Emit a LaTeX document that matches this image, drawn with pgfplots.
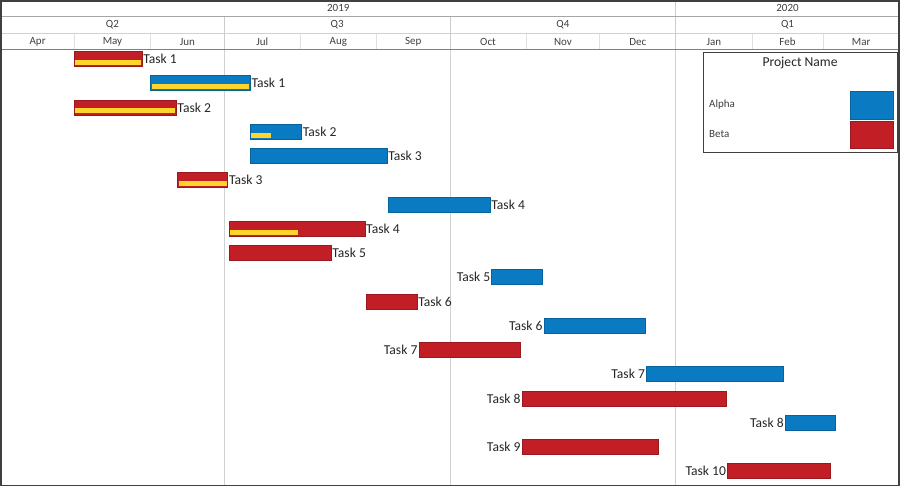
\documentclass[border=0pt]{standalone}
\usepackage{pgfplots}
\pgfplotsset{compat=1.18}
\usepackage{fontspec}
\setmainfont{Carlito}

\definecolor{alpha}{HTML}{0A7AC2}
\definecolor{beta}{HTML}{C21E25}
\definecolor{done}{HTML}{FFD52C}
\definecolor{frame}{HTML}{404040}
\definecolor{hdrtext}{HTML}{404040}

% one bar of the chart: colour, start day, end day, row
\newcommand{\gbar}[4]{%
  \pgfmathsetmacro\lo{#4-0.31}\pgfmathsetmacro\hi{#4+0.31}%
  \addplot[fill=#1, draw=#1!80!black, line width=0.5pt]
    coordinates {(#2,\lo) (#3,\lo) (#3,\hi) (#2,\hi)} -- cycle;}
% progress strip: start day, end day, row
\newcommand{\prog}[3]{%
  \pgfmathsetmacro\lo{#3+0.045}\pgfmathsetmacro\hi{#3+0.25}%
  \addplot[fill=done, draw=none]
    coordinates {(#1,\lo) (#2,\lo) (#2,\hi) (#1,\hi)} -- cycle;}
\newcommand{\labR}[3]{\node[lab, anchor=west] at (axis cs:#1,#2) {#3};}
\newcommand{\labL}[3]{\node[lab, anchor=east] at (axis cs:#1,#2) {#3};}

\begin{document}
\begin{tikzpicture}[
  lab/.style={inner sep=1.2pt, text=black!85, font=\fontsize{13.6}{15}\selectfont},
  hdr/.style={text=hdrtext, font=\fontsize{11}{12}\selectfont},
]
\begin{axis}[
  scale only axis,
  width=898pt, height=435.6pt,
  xmin=0, xmax=366,          % days from 1 Apr 2019
  ymin=0.629, ymax=18.6,
  y dir=reverse,
  axis line style={draw=none},
  tick style={draw=none},
  xtick={91,183,275}, xticklabels={},
  ytick=\empty,
  xmajorgrids,
  grid style={color=black!18, line width=0.7pt},
  clip=false,
]

% ---- header ----
\draw[black!20, line width=0.7pt] (axis cs:275,-1.393) -- (axis cs:275,0.629);
\draw[black!20, line width=0.7pt] (axis cs:91,-0.733) -- (axis cs:91,0.629);
\draw[black!20, line width=0.7pt] (axis cs:183,-0.733) -- (axis cs:183,0.629);
\pgfplotsinvokeforeach{30,61,122,153,214,244,306,335}{
  \draw[black!12, line width=0.7pt] (axis cs:#1,-0.031) -- (axis cs:#1,0.629);}
\draw[black!35, line width=0.8pt] (axis cs:0,-0.733) -- (axis cs:366,-0.733);
\draw[black!18, line width=0.8pt] (axis cs:0,-0.031) -- (axis cs:366,-0.031);
\draw[black!50, line width=1.3pt] (axis cs:0,0.629) -- (axis cs:366,0.629);

\node[hdr] at (axis cs:137.5,-1.08) {2019};
\node[hdr] at (axis cs:320.5,-1.08) {2020};
\node[hdr] at (axis cs:45.5,-0.39) {Q2};
\node[hdr] at (axis cs:137,-0.39) {Q3};
\node[hdr] at (axis cs:229,-0.39) {Q4};
\node[hdr] at (axis cs:320.5,-0.39) {Q1};
\node[hdr] at (axis cs:15,0.30) {Apr};
\node[hdr] at (axis cs:45.5,0.30) {May};
\node[hdr] at (axis cs:76,0.30) {Jun};
\node[hdr] at (axis cs:106.5,0.30) {Jul};
\node[hdr] at (axis cs:137.5,0.30) {Aug};
\node[hdr] at (axis cs:168,0.30) {Sep};
\node[hdr] at (axis cs:198.5,0.30) {Oct};
\node[hdr] at (axis cs:229,0.30) {Nov};
\node[hdr] at (axis cs:259.5,0.30) {Dec};
\node[hdr] at (axis cs:290.5,0.30) {Jan};
\node[hdr] at (axis cs:320.5,0.30) {Feb};
\node[hdr] at (axis cs:350.5,0.30) {Mar};

% ---- tasks ----
\gbar{beta}{30}{57.5}{1}      \prog{30.4}{57.1}{1}    \labR{57.5}{1}{Task 1}
\gbar{alpha}{61}{101.6}{2}    \prog{61.4}{101.2}{2}   \labR{101.6}{2}{Task 1}
\gbar{beta}{30}{71.4}{3}      \prog{30.4}{71}{3}      \labR{71.4}{3}{Task 2}
\gbar{alpha}{101.6}{122.5}{4} \prog{102}{110}{4}      \labR{122.5}{4}{Task 2}
\gbar{alpha}{101.6}{157.3}{5}                         \labR{157.3}{5}{Task 3}
\gbar{beta}{72}{92.4}{6}      \prog{72.4}{92}{6}      \labR{92.4}{6}{Task 3}
\gbar{alpha}{158}{199.3}{7}                           \labR{199.3}{7}{Task 4}
\gbar{beta}{92.9}{148.3}{8}   \prog{93.3}{121}{8}     \labR{148.3}{8}{Task 4}
\gbar{beta}{92.9}{134.5}{9}                           \labR{134.5}{9}{Task 5}
\gbar{alpha}{200}{220.5}{10}                          \labL{200}{10}{Task 5}
\gbar{beta}{149}{169.5}{11}                           \labR{169.5}{11}{Task 6}
\gbar{alpha}{221.3}{262.4}{12}                        \labL{221.3}{12}{Task 6}
\gbar{beta}{170.3}{211.5}{13}                         \labL{170.3}{13}{Task 7}
\gbar{alpha}{263}{318.8}{14}                          \labL{263}{14}{Task 7}
\gbar{beta}{212.3}{295.7}{15}                         \labL{212.3}{15}{Task 8}
\gbar{alpha}{319.5}{340}{16}                          \labL{319.5}{16}{Task 8}
\gbar{beta}{212.3}{267.7}{17}                         \labL{212.3}{17}{Task 9}
\gbar{beta}{296}{337.9}{18}                           \labL{296}{18}{Task 10}

% ---- legend ----
\draw[fill=white, draw=frame, line width=0.9pt] (axis cs:286.1,0.75) rectangle (axis cs:365.2,4.88);
\node[lab] at (axis cs:325.6,1.17) {Project Name};
\node[hdr, anchor=west, inner sep=0pt] at (axis cs:288.5,2.90) {Alpha};
\node[hdr, anchor=west, inner sep=0pt] at (axis cs:288.5,4.09) {Beta};
\draw[fill=alpha, draw=alpha!80!black, line width=0.5pt] (axis cs:346,2.32) rectangle (axis cs:363.5,3.475);
\draw[fill=beta, draw=beta!80!black, line width=0.5pt] (axis cs:346,3.56) rectangle (axis cs:363.5,4.67);

% outer frame
\draw[frame, line width=1.6pt] (axis cs:0,-1.393) rectangle (axis cs:366,18.6);
\end{axis}
\end{tikzpicture}
\end{document}
